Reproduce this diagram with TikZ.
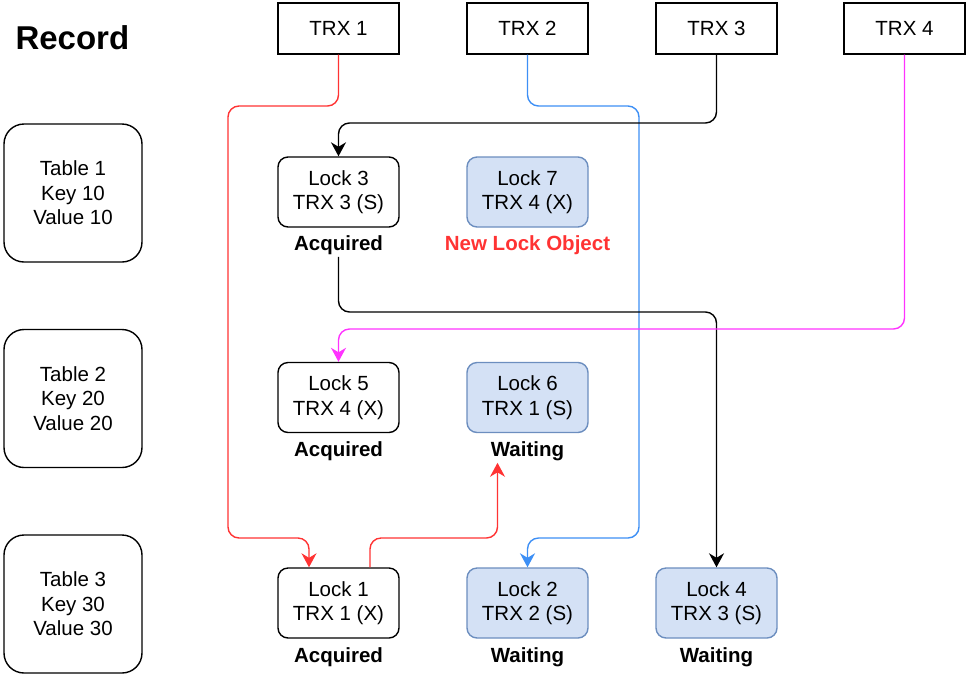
\documentclass[tikz,border=0pt]{standalone}
\usepackage{fontspec}
\setmainfont{Liberation Sans}
\usetikzlibrary{arrows.meta}
\definecolor{lred}{HTML}{FF3333}
\definecolor{lblue}{HTML}{3D8FF5}
\definecolor{lmag}{HTML}{FF33FF}
\definecolor{bfill}{HTML}{D4E1F5}
\definecolor{bstroke}{HTML}{6C8EBF}
\begin{document}
\begin{tikzpicture}[x=1pt,y=-1pt,
  font=\fontsize{20.5}{24.5}\selectfont,
  trx/.style={draw, line width=1.4pt, minimum width=121pt, minimum height=51pt, inner sep=0pt},
  tbl/.style={draw, line width=1.4pt, rounded corners=20pt, minimum width=138pt, minimum height=138pt, align=center, inner sep=0pt},
  lock/.style={draw, line width=1.4pt, rounded corners=10pt, minimum width=121pt, minimum height=70pt, align=center, inner sep=0pt},
  wlock/.style={lock, fill=bfill, draw=bstroke},
  lbl/.style={font=\fontsize{20.5}{24.5}\selectfont\bfseries, inner sep=2pt},
  conn/.style={line width=1.4pt, rounded corners=11pt, -{Stealth[length=14pt,width=15pt,inset=4.5pt]}},
]
\useasboundingbox (0,0) rectangle (968,681);

\node[font=\fontsize{33}{37}\selectfont\bfseries, anchor=west] (rec) at (12,38) {Record};

\node[trx] (trx1) at (338.5,28.5) {TRX 1};
\node[trx] (trx2) at (527.5,28.5) {TRX 2};
\node[trx] (trx3) at (716.5,28.5) {TRX 3};
\node[trx] (trx4) at (904.5,28.5) {TRX 4};

\node[tbl] (t1) at (73,193) {Table 1\\Key 10\\Value 10};
\node[tbl] (t2) at (73,398.5) {Table 2\\Key 20\\Value 20};
\node[tbl] (t3) at (73,604) {Table 3\\Key 30\\Value 30};

\node[lock] (lock3) at (338.5,192) {Lock 3\\TRX 3 (S)};
\node[wlock] (lock7) at (527.5,192) {Lock 7\\TRX 4 (X)};
\node[lock] (lock5) at (338.5,397.5) {Lock 5\\TRX 4 (X)};
\node[wlock] (lock6) at (527.5,397.5) {Lock 6\\TRX 1 (S)};
\node[lock] (lock1) at (338.5,603) {Lock 1\\TRX 1 (X)};
\node[wlock] (lock2) at (527.5,603) {Lock 2\\TRX 2 (S)};
\node[wlock] (lock4) at (716.5,603) {Lock 4\\TRX 3 (S)};

\node[lbl] (acq3) at (338.5,245) {Acquired};
\node[lbl, text=lred] (new7) at (527.5,245) {New Lock Object};
\node[lbl] (acq5) at (338.5,451) {Acquired};
\node[lbl] (wait6) at (527.5,451) {Waiting};
\node[lbl] (acq1) at (338.5,657) {Acquired};
\node[lbl] (wait2) at (527.5,657) {Waiting};
\node[lbl] (wait4) at (716.5,657) {Waiting};

% connectors
\draw[conn, lred] (trx1.south) |- (228,106) |- (309,538) -- ([xshift=-29.5pt]lock1.north);
\draw[conn, lred] ([xshift=31.5pt]lock1.north) |- (497.5,538) -- ([xshift=-30pt]wait6.south);
\draw[conn, lblue] (trx2.south) |- (639,106) |- (527.5,538) -- (lock2.north);
\draw[conn, black] (trx3.south) |- (338.5,123) -- (lock3.north);
\draw[conn, black] (acq3.south) |- (716.5,312) -- (lock4.north);
\draw[conn, lmag] (trx4.south) |- (338.5,329) -- (lock5.north);
\end{tikzpicture}
\end{document}
